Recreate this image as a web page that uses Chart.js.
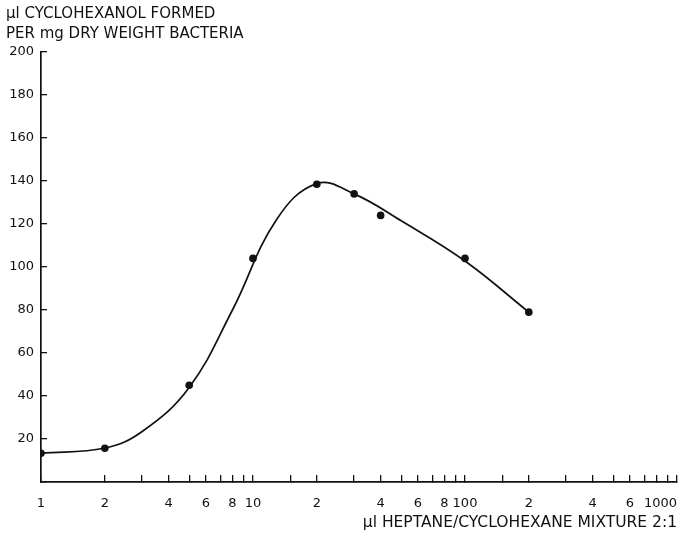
<!DOCTYPE html>
<html>
<head>
<meta charset="utf-8">
<title>Cyclohexanol formed vs heptane/cyclohexane mixture</title>
<script src="https://cdn.jsdelivr.net/npm/chart.js@4/dist/chart.umd.min.js"></script>
<style>
    html, body { margin: 0; padding: 0; background: #fff; }
    #wrap { width: 681px; height: 540px; position: relative; }
</style>
</head>
<body>
<div id="wrap"><canvas id="chart"></canvas></div>
<script>
'use strict';

/* ── Data ───────────────────────────────────────────────────────────────── */

// measured points: µl heptane/cyclohexane mixture vs µl cyclohexanol per mg
const doseX = [1, 2, 5, 10, 20, 30, 40, 100, 200];
const yieldY = [13.4, 15.7, 45, 104, 138.5, 134, 124, 104, 79];

// hand-drawn fitted curve, sampled along the line
const fitX = [1, 2, 3, 5, 8, 12.9, 20, 30, 50, 100, 200];
const fitY = [13.4, 15.8, 23.5, 44, 80, 122, 138.8, 134, 121.5, 102.8, 79];

// tick labels along the log axis (others unlabelled)
const xTickLabels = { 1: '1', 2: '2', 4: '4', 6: '6', 8: '8', 10: '10', 20: '2', 40: '4', 60: '6', 80: '8',
    100: '100', 200: '2', 400: '4', 600: '6', 1000: '1000        ' };
const yTicks = [20, 40, 60, 80, 100, 120, 140, 160, 180, 200];

const yTitle = ['µl CYCLOHEXANOL FORMED', 'PER mg DRY WEIGHT BACTERIA'];
const xTitle = 'µl HEPTANE/CYCLOHEXANE MIXTURE 2:1';

/* ── Chart ───────────────────────────────────────────────────────────────── */

const FONT = 'DejaVu Sans';
const INK = '#111';

const zip = (xs, ys) => xs.map((x, i) => ({ x, y: ys[i] }));

new Chart(document.getElementById('chart'), {
    type: 'line',
    data: {
        datasets: [
            { label: 'fit', data: zip(fitX, fitY), borderColor: INK, borderWidth: 1.7, pointRadius: 0,
              tension: 0.4, fill: false },
            { label: 'measured', data: zip(doseX, yieldY), showLine: false, pointRadius: 3.8,
              pointBackgroundColor: INK, pointBorderColor: INK, pointBorderWidth: 0 },
        ],
    },
    options: {
        responsive: true,
        maintainAspectRatio: false,
        animation: false,
        layout: { padding: { left: 6, right: 4, top: 0, bottom: 0 } },
        plugins: {
            legend: { display: false },
            tooltip: { enabled: false },
            title: {
                display: true, text: yTitle, align: 'start', color: INK,
                font: { family: FONT, size: 15, lineHeight: 20 / 15, weight: 'normal' },
                padding: { top: 4, bottom: 8 },
            },
        },
        scales: {
            x: {
                type: 'logarithmic', min: 1, max: 1000,
                border: { color: INK, width: 1.7 },
                grid: { drawOnChartArea: false, drawTicks: true, tickLength: -7, color: INK, lineWidth: 1.3 },
                ticks: {
                    autoSkip: false, maxRotation: 0, minRotation: 0, padding: 21, color: INK,
                    font: { family: FONT, size: 13 },
                    callback: v => xTickLabels[Math.round(v)] || '',
                },
                title: { display: true, text: xTitle, align: 'end', color: INK,
                    font: { family: FONT, size: 15.5 }, padding: { top: 0, bottom: 8 } },
                afterFit: s => { s.height = 58; s.paddingLeft = 0; s.paddingRight = 0; },
            },
            y: {
                min: 0, max: 200,
                border: { color: INK, width: 1.7 },
                grid: { drawOnChartArea: false, drawTicks: true, tickLength: -6, color: INK, lineWidth: 1.3 },
                ticks: {
                    stepSize: 20, padding: 13, color: INK,
                    font: { family: FONT, size: 13 },
                    callback: v => yTicks.includes(v) ? String(v) : '',
                },
                afterFit: s => { s.width = 35; s.paddingTop = 0; s.paddingBottom = 0; },
            },
        },
    },
});
</script>
</body>
</html>
